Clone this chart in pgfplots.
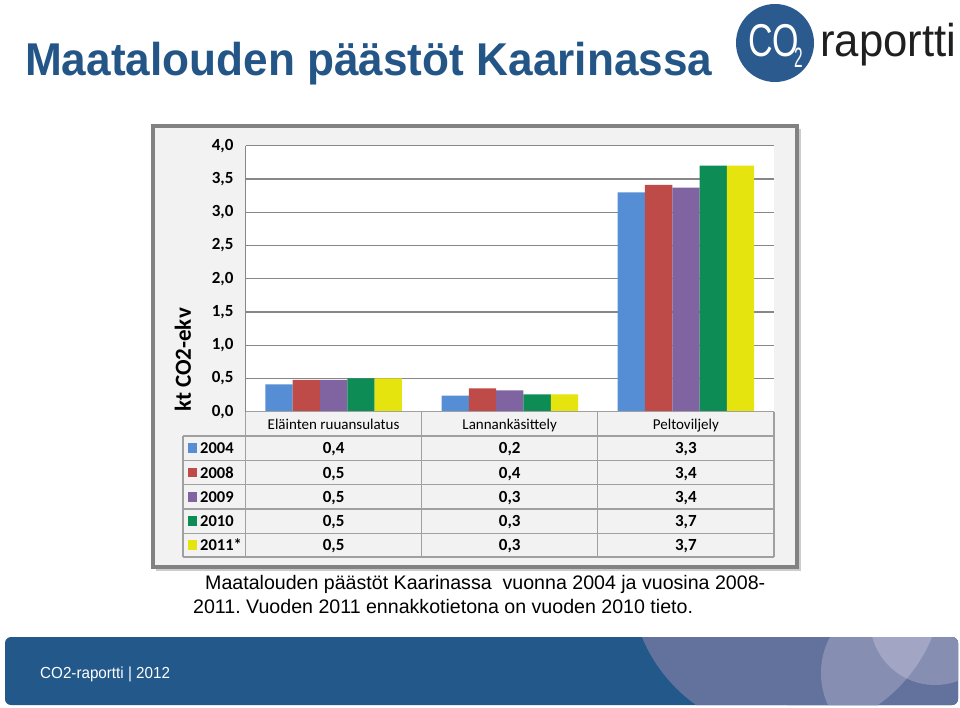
\documentclass[border=0pt]{standalone}
\usepackage{pgfplots}
\pgfplotsset{compat=1.18}
\usepackage{fontspec}
\setmainfont{Liberation Sans}
\newfontfamily\calibri{Carlito}
\frenchspacing

\definecolor{c04}{RGB}{85,142,213}
\definecolor{c08}{RGB}{190,75,72}
\definecolor{c09}{RGB}{128,100,162}
\definecolor{c10}{RGB}{14,140,86}
\definecolor{c11}{RGB}{230,228,14}
\definecolor{titleblue}{RGB}{35,85,135}
\definecolor{logoblue}{RGB}{42,90,142}
\definecolor{bandblue}{RGB}{34,88,138}
\definecolor{slateA}{RGB}{98,114,156}
\definecolor{slateB}{RGB}{134,143,177}
\definecolor{slateC}{RGB}{162,165,196}
\definecolor{framegray}{RGB}{130,130,130}
\definecolor{panel}{RGB}{242,242,242}
\definecolor{tabline}{RGB}{160,160,160}
\definecolor{gridgray}{RGB}{135,135,135}

\newcommand{\fs}[1]{\fontsize{#1}{#1}\selectfont}
% one row of the data table: y, colour, year, three values
\newcommand{\trow}[6]{%
  \fill[#2] (187.5,#1-4.75) rectangle (197,#1+4.75);
  \node[anchor=base west, inner sep=0pt, font=\calibri\bfseries\fs{16.5}] at (200,#1+5.6) {#3};
  \node[anchor=base, inner sep=0pt, font=\calibri\bfseries\fs{17}] at (333.6,#1+5.6) {#4};
  \node[anchor=base, inner sep=0pt, font=\calibri\bfseries\fs{17}] at (509.7,#1+5.6) {#5};
  \node[anchor=base, inner sep=0pt, font=\calibri\bfseries\fs{17}] at (685.9,#1+5.6) {#6};
}

\begin{document}
\begin{tikzpicture}[x=1pt,y=1pt]
\path[use as bounding box] (0,0) rectangle (960,-707);

% background pieces, pixel coordinates (y down)
\begin{scope}[yscale=-1]
  % title
  \node[anchor=base west, inner sep=0pt, text=titleblue, font=\fs{46}\bfseries]
    at (25,75) {\scalebox{0.96}[1]{Maatalouden päästöt Kaarinassa}};
  % logo
  \fill[logoblue] (775,43) circle[radius=39];
  \node[anchor=base west, inner sep=0pt, text=white, font=\fs{46}]
    at (748,56) {\scalebox{0.74}[1]{CO}};
  \node[anchor=base west, inner sep=0pt, text=white, font=\fs{28}]
    at (794,67) {\scalebox{0.55}[1]{2}};
  \node[anchor=base west, inner sep=0pt, text=black!88, font=\fs{46}]
    at (820,56) {\scalebox{0.95}[1]{raportti}};

  % chart frame
  \fill[black!40, opacity=0.5] (156,129) rectangle (801,571);
  \filldraw[fill=panel, draw=framegray, line width=4] (153,126) rectangle (797,567);
  \fill[white] (245.6,145.7) rectangle (774,411.7);

  % footer band
  \fill[bandblue, rounded corners=6] (5,637) rectangle (958,705);
  \begin{scope}
    \clip[rounded corners=6] (5,637) rectangle (958,705);
    \fill[slateA] (787,577) circle[radius=157];
    \fill[slateA] (787,630) rectangle (960,710);
    \fill[slateB] (935,620) circle[radius=65];
    \begin{scope}
      \clip (787,577) circle[radius=157];
      \fill[slateB] (866,673) circle[x radius=45, y radius=60];
      \fill[slateC] (935,620) circle[radius=65];
    \end{scope}
  \end{scope}
  \node[anchor=west, inner sep=0pt, text=white, font=\fs{16}] at (40,674) {\scalebox{0.95}[1]{CO2-raportti | 2012}};

  % caption
  \node[anchor=base west, inner sep=0pt, font=\fs{19.6}] at (205,589)
    {Maatalouden päästöt Kaarinassa\ \ vuonna 2004 ja vuosina 2008-};
  \node[anchor=base west, inner sep=0pt, font=\fs{19.6}] at (193,613)
    {2011. Vuoden 2011 ennakkotietona on vuoden 2010 tieto.};
\end{scope}

\begin{axis}[
  at={(245.6pt,-411.7pt)}, anchor=south west,
  scale only axis, width=528.4pt, height=266pt,
  xmin=0.5, xmax=3.5, ymin=0, ymax=4,
  ybar=0pt, bar width=27.3pt,
  axis line style={draw=none},
  xtick=\empty,
  ytick={0,0.5,1,1.5,2,2.5,3,3.5,4},
  ymajorgrids, grid style={draw=gridgray, line width=1.3pt},
  major tick length=0pt,
  yticklabel style={font=\calibri\bfseries\fs{17}, anchor=east, inner sep=0pt, xshift=-12pt},
  /pgf/number format/.cd, fixed, fixed zerofill, precision=1, use comma, assume math mode=true,
]
  \addplot[fill=c04, draw=none] coordinates {(1,0.41) (2,0.24) (3,3.30)};
  \addplot[fill=c08, draw=none] coordinates {(1,0.48) (2,0.35) (3,3.41)};
  \addplot[fill=c09, draw=none] coordinates {(1,0.48) (2,0.32) (3,3.37)};
  \addplot[fill=c10, draw=none] coordinates {(1,0.50) (2,0.26) (3,3.70)};
  \addplot[fill=c11, draw=none] coordinates {(1,0.50) (2,0.26) (3,3.70)};
\end{axis}

% data table under the chart
\begin{scope}[yscale=-1]
  \draw[gridgray, line width=1.3] (245.6,145.7) -- (245.6,411.7);
  \begin{scope}[tabline, line width=1.3]
    \draw (245.6,411.7) -- (774,411.7);
    \foreach \yy in {436,460.5,484.8,509.1,533.3,557} \draw (183,\yy) -- (774,\yy);
    \draw (183,436) -- (183,557);
    \foreach \xx in {245.6,421.6,597.7,774} \draw (\xx,411.7) -- (\xx,557);
  \end{scope}
  \node[anchor=base, font=\calibri\fs{15}, inner sep=0pt] at (333.6,429) {Eläinten ruuansulatus};
  \node[anchor=base, font=\calibri\fs{15}, inner sep=0pt] at (509.7,429) {Lannankäsittely};
  \node[anchor=base, font=\calibri\fs{15}, inner sep=0pt] at (685.9,429) {Peltoviljely};
  \trow{448.2}{c04}{2004}{0,4}{0,2}{3,3}
  \trow{472.6}{c08}{2008}{0,5}{0,4}{3,4}
  \trow{497.0}{c09}{2009}{0,5}{0,3}{3,4}
  \trow{521.2}{c10}{2010}{0,5}{0,3}{3,7}
  \trow{545.1}{c11}{2011*}{0,5}{0,3}{3,7}
\end{scope}
\node[rotate=90, font=\calibri\bfseries\fs{23}, inner sep=0pt] at (183,-360) {kt CO2-ekv};
\end{tikzpicture}
\end{document}
